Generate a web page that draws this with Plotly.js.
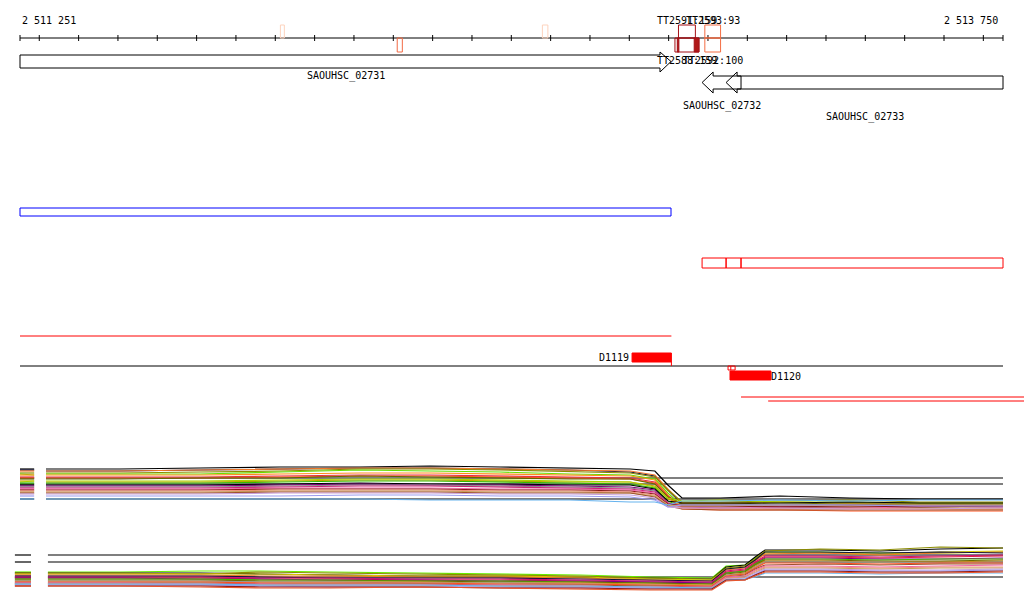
<!DOCTYPE html>
<html><head><meta charset="utf-8">
<script src="https://cdn.plot.ly/plotly-3.0.1.min.js"></script>
<style>html,body{margin:0;padding:0;background:#fff;} #chart{width:1024px;height:611px;}</style>
</head><body><div id="chart"></div>
<script>
// ---------------- DATA ----------------
const rulerStart = 2511251, rulerEnd = 2513750, tickStep = 100;
const rulerLabels = ["2 511 251", "2 513 750"];

const geneNames  = ["SAOUHSC_02731", "SAOUHSC_02732", "SAOUHSC_02733"];
const geneStart  = [2511251, 2512985, 2513046];
const geneEnd    = [2512906, 2513084, 2513750];
const geneStrand = ["+", "-", "-"];

// terminator-like features on the ruler
const featStart = [2511913, 2512210, 2512579, 2512925, 2512916, 2512992, 2512992];
const featEnd   = [2511923, 2512223, 2512593, 2512968, 2512977, 2513032, 2513032];
const featSide  = ["up", "down", "up", "up", "down", "up", "down"];
const featColor = ["#fdd3bd", "#f26a45", "#fdd3bd", "#a50f15", "#a50f15", "#f46d43", "#f46d43"];
const featFillStart = [2512965, 2512922];
const featFillEnd   = [2512977, 2512926];
const featLabels    = ["TT2591:159", "TT2593:93", "TT2588:159", "TT2592:100"];
const featLabelPos  = [2512946, 2513012, 2512946, 2513012];
const featLabelSide = ["up", "up", "down", "down"];

// annotation tracks
const blueBox  = [2511251, 2512906];
const redBoxes = [[2512985, 2513046], [2513046, 2513084], [2513084, 2513750]];
const redLine  = [2511251, 2512907];
const segNames  = ["D1119", "D1120"];
const segStart  = [2512807, 2513056];
const segEnd    = [2512907, 2513160];
const smallBox  = [2513051, 2513058, 2513069];
const lowLines  = [[2513084, 2513810], [2513153, 2513810]];

// profile panel 1
const topX = [2511251, 2511287, 2511302, 2511317, 2511505, 2511709, 2511912, 2512115, 2512293, 2512471,
              2512649, 2512802, 2512865, 2512898, 2512934, 2513031, 2513183, 2513361, 2513539, 2513750];
const topRef = [37, 31, 16];
const topColors = ["#000000","#14143c","#f0782a","#8c8c00","#66dd00","#ff8c1a","#e0304a","#ff5522",
                   "#666600","#c8a000","#aad400","#33bb00","#000000","#800080","#8c8c8c","#cc2277",
                   "#ee66aa","#8b1a1a","#f0907a","#c8a060","#a0522d","#c9a0dc","#9b9bf0","#66b3ee"];
const topSeries = [
 [46,46,null,46,46,47,48,48,49,48,47,46,44,30,17,17,19,17,16,16],
 [45,45,null,44,44,45,46,47,47,46,45,43,39,25,11,11,10,11,11,10],
 [44,44,null,44,44,45,46,47,47,46,45,44,40,26,12,11,10,11,10,10],
 [42,42,null,42,42,43,44,46,46,45,43,42,38,25,13,13,14,15,13,13],
 [41,40,null,41,41,41,43,45,44,43,41,40,36,22,9,8,7,8,7,7],
 [40,40,null,40,40,40,41,42,42,41,40,39,35,20,7,7,6,7,6,6],
 [38,38,null,38,38,38,39,40,40,39,38,37,33,19,10,10,9,10,9,9],
 [37,37,null,37,37,37,38,39,39,38,37,36,32,18,6,5,5,4,4,4],
 [36,36,null,36,36,37,37,39,38,37,36,36,31,18,11,11,12,11,11,11],
 [34,34,null,33,33,33,34,35,35,34,33,33,29,16,12,12,13,12,12,12],
 [33,34,null,34,34,34,35,36,36,35,34,33,28,17,14,15,13,13,12,12],
 [32,32,null,32,32,32,33,34,34,33,32,31,27,14,8,8,9,8,8,9],
 [30,30,null,30,30,30,31,32,31,31,30,30,26,14,12,12,12,13,12,12],
 [29,29,null,29,29,29,30,31,30,30,29,28,25,12,8,7,8,8,9,8],
 [28,28,null,28,28,28,29,30,30,29,28,27,24,12,10,10,11,10,10,10],
 [27,27,null,27,27,27,28,29,29,28,27,26,23,12,9,9,9,9,9,9],
 [26,26,null,26,26,26,27,27,27,26,26,25,22,11,8,8,7,7,8,8],
 [25,25,null,25,25,25,26,26,26,25,25,24,21,11,9,9,8,9,8,9],
 [24,24,null,24,24,24,25,25,25,24,24,23,20,10,7,6,6,6,6,6],
 [23,23,null,23,23,23,24,24,24,23,23,22,19,10,9,9,10,9,10,10],
 [22,22,null,22,22,22,23,23,23,22,22,22,18,9,6,5,5,5,5,5],
 [21,21,null,21,21,21,22,22,22,21,21,20,17,8,7,7,7,6,6,7],
 [19,19,null,19,19,19,19,20,20,19,19,18,15,8,10,10,10,10,9,9],
 [16,16,null,16,16,16,16,16,15,15,15,13,13,10,14,14,15,14,15,15]
];

// profile panel 2
const botX = [2511238, 2511279, 2511302, 2511322, 2511505, 2511709, 2511861, 2512039, 2512268, 2512471,
              2512675, 2512853, 2513010, 2513046, 2513094, 2513120, 2513145, 2513285, 2513437, 2513590, 2513750];
const botRef = [35, 28, 13];
const botColors = ["#66ee00","#000000","#8c8c00","#d4c800","#f07828","#14143c","#cc1177","#dd2244",
                   "#800080","#44bb00","#6b6b00","#c88a20","#999999","#ff5020","#a0522d","#ee66aa",
                   "#f0907a","#c8a060","#c9a0dc","#9b9bf0","#66b3ee","#8b1a1a","#e8542a"];
const botSeries = [
 [18,18,null,18,18,19,19,18,17,16,15,13,12,24,25,32,38,38,37,37,38],
 [17,17,null,17,17,17,16,15,14,14,13,12,11,23,25,33,40,40,39,41,42],
 [17,17,null,17,17,16,18,17,16,15,14,12,11,22,24,31,39,41,40,43,42],
 [16,16,null,16,16,16,16,15,14,14,13,11,10,21,23,30,37,37,36,38,39],
 [15,15,null,15,15,15,14,14,13,13,12,10,9,20,22,29,36,37,35,37,38],
 [14,14,null,14,14,14,13,12,12,12,11,10,9,21,23,30,38,38,37,38,37],
 [13,13,null,13,13,13,12,12,11,11,10,9,8,19,21,28,34,34,33,34,35],
 [12,12,null,12,12,12,11,11,10,10,9,8,7,18,20,27,33,33,32,33,34],
 [12,12,null,12,12,11,11,10,10,9,9,8,7,17,19,26,32,32,31,31,32],
 [11,11,null,11,11,11,10,10,9,9,8,7,6,17,19,26,31,31,30,31,31],
 [10,10,null,10,10,10,9,9,9,8,8,7,6,16,18,25,30,30,29,29,30],
 [9,9,null,9,9,9,8,8,8,7,7,6,5,15,17,24,29,29,28,28,29],
 [9,9,null,9,9,9,8,8,7,7,6,5,4,15,16,23,28,28,28,27,28],
 [8,8,null,8,8,8,7,7,7,6,6,5,4,14,16,22,27,27,26,27,27],
 [7,7,null,7,7,7,6,6,6,5,5,4,3,13,15,21,25,26,25,26,26],
 [7,7,null,7,7,6,6,5,5,5,4,3,3,13,14,20,24,24,23,24,25],
 [6,6,null,6,6,6,5,5,4,4,4,3,2,12,13,19,23,23,22,23,23],
 [6,6,null,6,6,5,5,4,4,4,3,2,2,11,13,18,22,22,21,22,22],
 [5,5,null,5,5,5,4,4,4,3,3,2,1,11,12,17,21,21,20,20,21],
 [5,5,null,5,5,5,4,3,3,3,2,2,1,10,11,16,20,20,19,19,20],
 [6,6,null,6,6,6,5,5,5,4,4,3,2,10,11,13,17,17,16,17,17],
 [4,4,null,4,4,4,3,3,3,2,2,1,1,10,10,15,19,19,18,18,19],
 [4,4,null,4,4,3,2,2,3,2,1,0,0,9,10,14,18,18,17,17,18]
];

// ---------------- LAYOUT CONSTANTS (pixel rows) ----------------
const L = {
  rulerY: 38, tickH: 3, rulerLabelY: 20,
  featUp: [25, 38], featDown: [38, 52], featLabUp: 20, featLabDown: 60,
  plusBody: [55, 68], plusHead: [52, 72], minusBody: [76, 89], minusHead: [72, 93],
  geneLabY: [76, 106, 117],
  blueY: [208, 216], redY: [258, 268], redLineY: 336,
  seg1Y: [353, 362], baseY: 366, smallBoxY: [366, 370], seg2Y: [371, 380],
  lowLineY: [397, 401],
  headBp: 28
};
const FONT = {family: "DejaVu Sans Mono, monospace", size: 10, color: "#000"};
const bpPerPx = (rulerEnd - rulerStart) / 983;

const shapes = [], annotations = [];
function line(x0, y0, x1, y1, color, w) {
  shapes.push({type: "line", xref: "x", yref: "y", x0, y0, x1, y1, line: {color, width: w || 1}});
}
function rect(x0, y0, x1, y1, color, fill) {
  shapes.push({type: "rect", xref: "x", yref: "y", x0, y0, x1, y1,
    line: {color, width: 1}, fillcolor: fill || "rgba(0,0,0,0)"});
}
function label(text, x, y, xanchor) {
  annotations.push({text, x, y, xref: "x", yref: "y", showarrow: false, xanchor: xanchor || "center",
    yanchor: "middle", font: FONT});
}

// ruler
line(rulerStart, L.rulerY, rulerEnd, L.rulerY, "#000", 1);
const ticks = [rulerStart];
for (let t = Math.ceil(rulerStart / tickStep) * tickStep; t < rulerEnd; t += tickStep) ticks.push(t);
ticks.push(rulerEnd);
ticks.forEach(t => line(t, L.rulerY - L.tickH, t, L.rulerY + L.tickH, "#000", 1));
label(rulerLabels[0], rulerStart, L.rulerLabelY, "left");
label(rulerLabels[1], rulerEnd - 3 * bpPerPx, L.rulerLabelY, "right");

// features
featStart.forEach((s, i) => {
  const yy = featSide[i] === "up" ? L.featUp : L.featDown;
  rect(s, yy[0], featEnd[i], yy[1], featColor[i]);
});
featFillStart.forEach((s, i) => rect(s, L.featDown[0], featFillEnd[i], L.featDown[1], "#a50f15", "#b01818"));
featLabels.forEach((t, i) => label(t, featLabelPos[i], featLabelSide[i] === "up" ? L.featLabUp : L.featLabDown));

// genes
geneNames.forEach((g, i) => {
  const s = geneStart[i], e = geneEnd[i], H = L.headBp;
  let p;
  if (geneStrand[i] === "+") {
    const b = L.plusBody, h = L.plusHead, m = (b[0] + b[1]) / 2;
    p = `M${s},${b[0]} L${e - H},${b[0]} L${e - H},${h[0]} L${e},${m} L${e - H},${h[1]} L${e - H},${b[1]} L${s},${b[1]} Z`;
  } else {
    const b = L.minusBody, h = L.minusHead, m = (b[0] + b[1]) / 2;
    p = `M${s},${m} L${s + H},${h[0]} L${s + H},${b[0]} L${e},${b[0]} L${e},${b[1]} L${s + H},${b[1]} L${s + H},${h[1]} Z`;
  }
  shapes.push({type: "path", xref: "x", yref: "y", path: p, line: {color: "#000", width: 1}, fillcolor: "rgba(0,0,0,0)"});
  label(g, (s + e) / 2, L.geneLabY[i]);
});

// annotation tracks
rect(blueBox[0], L.blueY[0], blueBox[1], L.blueY[1], "#0000ff");
redBoxes.forEach(b => rect(b[0], L.redY[0], b[1], L.redY[1], "#ff0000"));
line(redLine[0], L.redLineY, redLine[1], L.redLineY, "#ff0000", 1);
line(rulerStart, L.baseY, rulerEnd, L.baseY, "#000", 1);
rect(segStart[0], L.seg1Y[0], segEnd[0], L.seg1Y[1], "#ff0000", "#ff0000");
line(segEnd[0], L.seg1Y[1], segEnd[0], L.baseY, "#ff0000", 1);
label(segNames[0], segStart[0] - 1 * bpPerPx, (L.seg1Y[0] + L.seg1Y[1]) / 2, "right");
rect(smallBox[0], L.smallBoxY[0], smallBox[2], L.smallBoxY[1], "#ff0000");
line(smallBox[1], L.smallBoxY[0], smallBox[1], L.smallBoxY[1], "#ff0000", 1);
rect(segStart[1], L.seg2Y[0], segEnd[1], L.seg2Y[1], "#ff0000", "#ff0000");
label(segNames[1], segEnd[1] - 2 * bpPerPx, (L.seg2Y[0] + L.seg2Y[1]) / 2 + 0.5, "left");
lowLines.forEach((ln, i) => line(ln[0], L.lowLineY[i], ln[1], L.lowLineY[i], "#ff0000", 1));

// ---------------- TRACES ----------------
const traces = [];
function refTrace(xs, v, ax) {
  const n = xs.length;
  traces.push({x: [xs[0], xs[1], xs[2], xs[3], xs[n - 1]], y: [v, v, null, v, v], yaxis: ax, xaxis: "x",
    mode: "lines", line: {color: "#000", width: 1.2}, hoverinfo: "skip", showlegend: false});
}
topRef.forEach(v => refTrace(topX, v, "y2"));
botRef.forEach(v => refTrace(botX, v, "y3"));
topSeries.forEach((ys, i) => traces.push({x: topX, y: ys, yaxis: "y2", xaxis: "x", mode: "lines",
  line: {color: topColors[i], width: 1.2}, hoverinfo: "skip", showlegend: false}));
botSeries.forEach((ys, i) => traces.push({x: botX, y: ys, yaxis: "y3", xaxis: "x", mode: "lines",
  line: {color: botColors[i], width: 1.2}, hoverinfo: "skip", showlegend: false}));
// anchor trace for main axis
traces.push({x: [rulerStart], y: [0], xaxis: "x", yaxis: "y", mode: "markers", marker: {opacity: 0}, hoverinfo: "skip", showlegend: false});

const H = 611;
const hidden = {visible: false, showgrid: false, zeroline: false, fixedrange: true};
const layout = {
  width: 1024, height: 611, margin: {l: 0, r: 0, t: 0, b: 0, pad: 0},
  paper_bgcolor: "#ffffff", plot_bgcolor: "rgba(0,0,0,0)", showlegend: false,
  xaxis: Object.assign({range: [rulerStart - 20 * bpPerPx, rulerStart + 1004 * bpPerPx], anchor: "y"}, hidden),
  yaxis: Object.assign({range: [611, 0], domain: [0, 1], anchor: "x"}, hidden),
  yaxis2: Object.assign({range: [-5, 60], domain: [1 - 520 / H, 1 - 455 / H], anchor: "x"}, hidden),
  yaxis3: Object.assign({range: [-10, 50], domain: [1 - 600 / H, 1 - 540 / H], anchor: "x"}, hidden),
  shapes, annotations
};
Plotly.newPlot("chart", traces, layout, {displayModeBar: false, staticPlot: true});
</script></body></html>
